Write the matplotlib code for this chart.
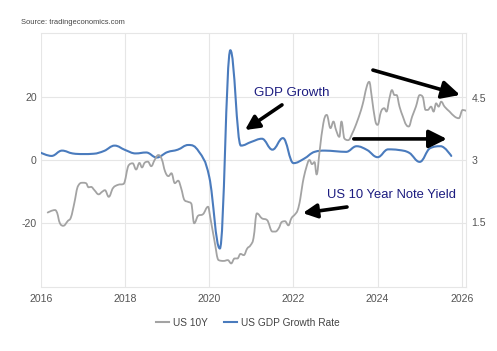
import numpy as np
import matplotlib
matplotlib.use("Agg")
import matplotlib.pyplot as plt
from matplotlib.path import Path
from matplotlib.patches import PathPatch
from matplotlib.lines import Line2D

plt.rcParams['font.family'] = ['Liberation Sans', 'DejaVu Sans']
plt.rcParams['axes.unicode_minus'] = False

# US GDP growth rate (annualised QoQ, %), quarterly, left axis
gdp_x = [2016.00, 2016.25, 2016.50, 2016.75, 2017.00, 2017.25, 2017.50, 2017.75,
         2018.00, 2018.25, 2018.50, 2018.75, 2019.00, 2019.25, 2019.50, 2019.75,
         2020.00, 2020.25, 2020.50, 2020.75, 2021.00, 2021.25, 2021.50, 2021.75,
         2022.00, 2022.25, 2022.50, 2022.75, 2023.00, 2023.25, 2023.50, 2023.75,
         2024.00, 2024.25, 2024.50, 2024.75, 2025.00, 2025.25, 2025.50, 2025.75]
gdp = [2.3, 1.3, 3.0, 2.1, 1.9, 2.0, 2.9, 4.6,
       3.2, 2.1, 2.4, 0.8, 2.5, 3.3, 4.8, 2.7,
       -5.5, -28.3, 35.1, 4.6, 5.8, 6.8, 3.3, 7.0,
       -1.0, 0.4, 2.6, 3.0, 2.8, 2.6, 4.4, 3.2,
       0.9, 3.4, 3.2, 2.3, -0.6, 3.8, 4.4, 1.3]

# US 10Y note yield (%), right axis
y10_x = [2016.16, 2016.33, 2016.37, 2016.45, 2016.53, 2016.64, 2016.71, 2016.79,
         2016.87, 2016.99, 2017.07, 2017.13, 2017.19, 2017.27, 2017.37, 2017.45,
         2017.52, 2017.61, 2017.71, 2017.83, 2017.96, 2018.09, 2018.18, 2018.26,
         2018.34, 2018.40, 2018.46, 2018.54, 2018.62, 2018.70, 2018.79, 2018.87,
         2018.95, 2019.03, 2019.10, 2019.18, 2019.26, 2019.33, 2019.41, 2019.49,
         2019.57, 2019.64, 2019.73, 2019.85, 2019.97, 2020.02, 2020.12, 2020.22,
         2020.34, 2020.44, 2020.52, 2020.60, 2020.67, 2020.74, 2020.82, 2020.90,
         2020.98, 2021.05, 2021.13, 2021.25, 2021.37, 2021.50, 2021.57, 2021.65,
         2021.72, 2021.80, 2021.88, 2021.95, 2022.04, 2022.10, 2022.16, 2022.22,
         2022.30, 2022.38, 2022.44, 2022.50, 2022.55, 2022.62, 2022.71, 2022.79,
         2022.88, 2022.95, 2023.01, 2023.09, 2023.14, 2023.21, 2023.30, 2023.40,
         2023.52, 2023.64, 2023.74, 2023.80, 2023.86, 2023.94, 2024.00, 2024.08,
         2024.16, 2024.21, 2024.28, 2024.34, 2024.40, 2024.45, 2024.52, 2024.60,
         2024.68, 2024.74, 2024.82, 2024.91, 2025.00, 2025.07, 2025.14, 2025.19,
         2025.27, 2025.33, 2025.39, 2025.45, 2025.51, 2025.59, 2025.71, 2025.83,
         2025.93, 2026.02, 2026.10]
y10 = [1.73, 1.79, 1.75, 1.47, 1.41, 1.53, 1.61, 1.95,
       2.35, 2.45, 2.44, 2.34, 2.35, 2.27, 2.17, 2.23,
       2.27, 2.11, 2.32, 2.40, 2.42, 2.88, 2.92, 2.77,
       2.93, 2.82, 2.93, 2.96, 2.85, 3.00, 3.12, 3.02,
       2.72, 2.61, 2.68, 2.44, 2.50, 2.32, 2.03, 1.99,
       1.95, 1.47, 1.65, 1.69, 1.87, 1.63, 1.06, 0.58,
       0.56, 0.58, 0.50, 0.62, 0.62, 0.73, 0.70, 0.86,
       0.94, 1.11, 1.71, 1.59, 1.55, 1.27, 1.27, 1.35,
       1.50, 1.52, 1.42, 1.59, 1.69, 1.79, 2.05, 2.45,
       2.80, 3.00, 2.90, 2.95, 2.65, 3.20, 3.89, 4.09,
       3.77, 3.93, 3.73, 3.56, 3.93, 3.52, 3.48, 3.65,
       3.95, 4.33, 4.77, 4.89, 4.53, 3.97, 3.85, 4.17,
       4.25, 4.17, 4.49, 4.69, 4.57, 4.57, 4.29, 4.05,
       3.85, 3.81, 4.05, 4.29, 4.57, 4.53, 4.21, 4.21,
       4.29, 4.17, 4.37, 4.29, 4.41, 4.29, 4.17, 4.05,
       4.01, 4.21, 4.19]

year_ticks = [2016, 2018, 2020, 2022, 2024, 2026]
left_ticks = [-20, 0, 20]
right_ticks = [1.5, 3, 4.5]
right_labels = ['1.5', '3', '4.5']

BLUE = '#4a7bbd'
GREY = '#a3a3a3'
NAVY = '#1c1c80'
GRID = '#e6e6e6'
TICK = '#555555'


def spline_path(xs, ys, smoothing=1.5):
    # cubic bezier path through the points, same idea as a highcharts spline
    xs = np.asarray(xs, float)
    ys = np.asarray(ys, float)
    n = len(xs)
    lc = np.zeros((n, 2))
    rc = np.zeros((n, 2))
    d = smoothing + 1
    for i in range(n):
        px, py = xs[i], ys[i]
        if i == 0 or i == n - 1:
            lc[i] = rc[i] = (px, py)
            continue
        lx, ly = xs[i - 1], ys[i - 1]
        nx, ny = xs[i + 1], ys[i + 1]
        lcx = (smoothing * px + lx) / d
        lcy = (smoothing * py + ly) / d
        rcx = (smoothing * px + nx) / d
        rcy = (smoothing * py + ny) / d
        if rcx != lcx:
            corr = (rcy - lcy) * (rcx - px) / (rcx - lcx) + py - rcy
            lcy += corr
            rcy += corr
        if lcy > ly and lcy > py:
            lcy = max(ly, py); rcy = 2 * py - lcy
        elif lcy < ly and lcy < py:
            lcy = min(ly, py); rcy = 2 * py - lcy
        if rcy > ny and rcy > py:
            rcy = max(ny, py); lcy = 2 * py - rcy
        elif rcy < ny and rcy < py:
            rcy = min(ny, py); lcy = 2 * py - rcy
        lc[i] = (lcx, lcy)
        rc[i] = (rcx, rcy)
    verts = [(xs[0], ys[0])]
    codes = [Path.MOVETO]
    for i in range(1, n):
        verts += [tuple(rc[i - 1]), tuple(lc[i]), (xs[i], ys[i])]
        codes += [Path.CURVE4] * 3
    return Path(verts, codes)


fig = plt.figure(figsize=(4.97, 3.51), dpi=100)
ax = fig.add_axes([41 / 497, 64 / 351, 425 / 497, 254 / 351])
ax2 = ax.twinx()

ax.set_xlim(2016.0, 2026.1)
ax.set_ylim(-40.6, 40.6)
ax2.set_ylim(-0.07, 6.07)

ax.add_patch(PathPatch(spline_path(gdp_x, gdp), fill=False, edgecolor=BLUE,
                       lw=1.5, capstyle='round', joinstyle='round', zorder=3))
ax2.add_patch(PathPatch(spline_path(y10_x, y10), fill=False, edgecolor=GREY,
                        lw=1.3, capstyle='round', joinstyle='round', zorder=3))

ax.set_xticks(year_ticks)
ax.set_yticks(left_ticks)
ax2.set_yticks(right_ticks)
ax2.set_yticklabels(right_labels)

ax.grid(True, color=GRID, lw=0.8)
ax.set_axisbelow(True)
for a in (ax, ax2):
    for s in a.spines.values():
        s.set_visible(False)
for side in ('bottom', 'top', 'right'):
    ax.spines[side].set_visible(True)
    ax.spines[side].set_color(GRID)
    ax.spines[side].set_linewidth(0.8)
ax.tick_params(axis='both', length=0, labelsize=7.6, colors=TICK)
ax.tick_params(axis='x', pad=5)
ax.tick_params(axis='y', pad=3)
ax2.tick_params(axis='y', length=0, labelsize=7.6, colors=TICK, pad=4)

# annotations
ax.text(0.501, 0.764, 'GDP Growth', transform=ax.transAxes, color=NAVY,
        fontsize=9.6, ha='left', va='center')
ax.text(0.673, 0.362, 'US 10 Year Note Yield', transform=ax.transAxes, color=NAVY,
        fontsize=9.4, ha='left', va='center')

arrows = [((0.567, 0.717), (0.480, 0.618), 21),
          ((0.720, 0.315), (0.616, 0.291), 21),
          ((0.781, 0.854), (0.986, 0.756), 27),
          ((0.736, 0.583), (0.955, 0.583), 27)]
for tail, tip, ms in arrows:
    ax.annotate('', xy=tip, xytext=tail, xycoords='axes fraction',
                textcoords='axes fraction', annotation_clip=False,
                arrowprops=dict(arrowstyle='-|>', color='black', lw=2.6,
                                mutation_scale=ms, shrinkA=0, shrinkB=0))

fig.text(21 / 497, 1 - 23 / 351, 'Source: tradingeconomics.com', fontsize=5.4,
         color='#444444', ha='left', va='center')

handles = [Line2D([], [], color=GREY, lw=1.5), Line2D([], [], color=BLUE, lw=1.5)]
leg = fig.legend(handles, ['US 10Y', 'US GDP Growth Rate'], loc='center',
                 bbox_to_anchor=(248 / 497, 1 - 323 / 351), ncol=2, frameon=False,
                 fontsize=7.3, handlelength=1.3, handletextpad=0.4, columnspacing=1.6)
for t in leg.get_texts():
    t.set_color('#444444')

fig.savefig('out.png', dpi=100)
